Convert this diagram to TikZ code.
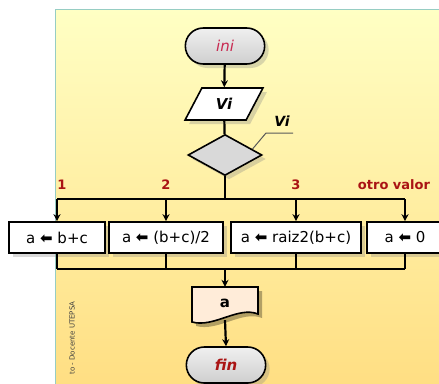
\documentclass[tikz,border=0pt]{standalone}
\usepackage{fontspec}
\setmainfont{DejaVu Sans}
\definecolor{etqred}{RGB}{170,20,20}
\definecolor{inired}{RGB}{200,40,80}
\definecolor{paneltop}{RGB}{255,255,196}
\definecolor{panelbot}{RGB}{255,222,130}
\definecolor{panelline}{RGB}{150,205,195}
\usetikzlibrary{arrows.meta, positioning, shapes, shadows, calc}

\begin{document}
\begin{tikzpicture}[x=1pt, y=-1pt,
      term/.style={draw, line width=1.6pt, rounded rectangle, minimum width=86pt, minimum height=36pt,
        top color=gray!12, bottom color=gray!38, font=\fontsize{15}{17}\selectfont\itshape,
        drop shadow={opacity=0.3, shadow xshift=4pt, shadow yshift=-4pt}},
      inbox/.style={draw, line width=1.6pt, trapezium, trapezium left angle=64, trapezium right angle=116,
        trapezium stretches=true, minimum width=78pt, minimum height=32pt, fill=white,
        font=\fontsize{15}{17}\selectfont\bfseries\itshape,
        drop shadow={opacity=0.3, shadow xshift=4pt, shadow yshift=-4pt}},
      decis/.style={draw, line width=1.6pt, diamond, minimum width=74pt, minimum height=41pt, inner sep=0pt,
        fill=gray!30, drop shadow={opacity=0.3, shadow xshift=4pt, shadow yshift=-4pt}},
      proc/.style={draw, line width=1.6pt, fill=white, minimum height=31pt, inner sep=2pt,
        font=\fontsize{15}{17}\selectfont,
        drop shadow={opacity=0.3, shadow xshift=4pt, shadow yshift=-4pt}},
      etq/.style={font=\fontsize{13}{15}\selectfont\bfseries, text=etqred},
      line/.style={line width=2.2pt, black},
      arr/.style={line width=2.2pt, -{Stealth[length=7pt, width=7pt]}},
    ]
      \useasboundingbox (0,0) rectangle (439,383);

      % Panel
      \shade[top color=paneltop, bottom color=panelbot] (55,9) rectangle (445,390);
      \draw[panelline, line width=0.8pt] (55,390) -- (55,9) -- (445,9);
      \node[rotate=90, anchor=east, font=\fontsize{7}{8}\selectfont\rmfamily, text=black!75] (autor) at (72,298) {to - Docente UTEPSA};

      % Start / read
      \node[term, text=inired] (ini) at (225,46) {ini};
      \node[inbox] (vi) at (224,104) {Vi};
      \node[decis] (dec) at (225,155) {};
      \node[font=\fontsize{14}{16}\selectfont\bfseries\itshape] (vilab) at (282,121) {Vi};
      \coordinate (vicorner) at (266,133);
      \draw[gray!70!black, line width=1pt] ($(dec.north east)!0.45!(dec.east)$) -- (vicorner) -- (vilab.south east |- vicorner);

      % Case labels
      \node[etq] (c1) at (62,185) {1};
      \node[etq] (c2) at (166,185) {2};
      \node[etq] (c3) at (296,185) {3};
      \node[etq] (c4) at (394,185) {otro valor};

      % Cases
      \node[proc, minimum width=96pt] (b1) at (57,237.5) {a \textbf{⬅} b+c};
      \node[proc, minimum width=114pt] (b2) at (166,237.5) {a \textbf{⬅} (b+c)/2};
      \node[proc, minimum width=130pt] (b3) at (296,237.5) {a \textbf{⬅} raiz2(b+c)};
      \node[proc, minimum width=76pt] (b4) at (405,237.5) {a \textbf{⬅} 0};

      % Output / end
      \coordinate (docnw) at (192,287);
      \fill[black, opacity=0.3] ($(docnw)+(4,4)$) -- (262,291) -- (262,318) .. controls (242,310) and (218,332) .. (196,326) -- cycle;
      \draw[line width=1.6pt, fill=orange!15] (docnw) -- (258,287) -- (258,314) .. controls (238,306) and (214,328) .. (192,322) -- cycle;
      \node[minimum width=66pt, minimum height=33pt, font=\fontsize{15}{17}\selectfont\bfseries] (doc) at (225,303.5) {a};
      \node[term, text=etqred, font=\fontsize{15}{17}\selectfont\bfseries\itshape] (fin) at (226,365) {fin};

      % Arrows
      \coordinate (bustop) at (225,199);
      \coordinate (busbot) at (225,269);
      \draw[arr] (ini) -- (vi);
      \draw[line] (vi) -- (dec);
      \draw[line] (dec.south) -- (bustop);
      \draw[line] (b1.north |- bustop) -- (b4.north |- bustop);
      \draw[line] (b1.south |- busbot) -- (b4.south |- busbot);
      \foreach \b in {b1,b2,b3,b4} {
        \draw[arr] (\b.north |- bustop) -- (\b.north);
        \draw[line] (\b.south) -- (\b.south |- busbot);
      }
      \draw[arr] (busbot) -- (doc.north);
      \draw[arr] (doc.south) -- (fin.north);
    \end{tikzpicture}
\end{document}
